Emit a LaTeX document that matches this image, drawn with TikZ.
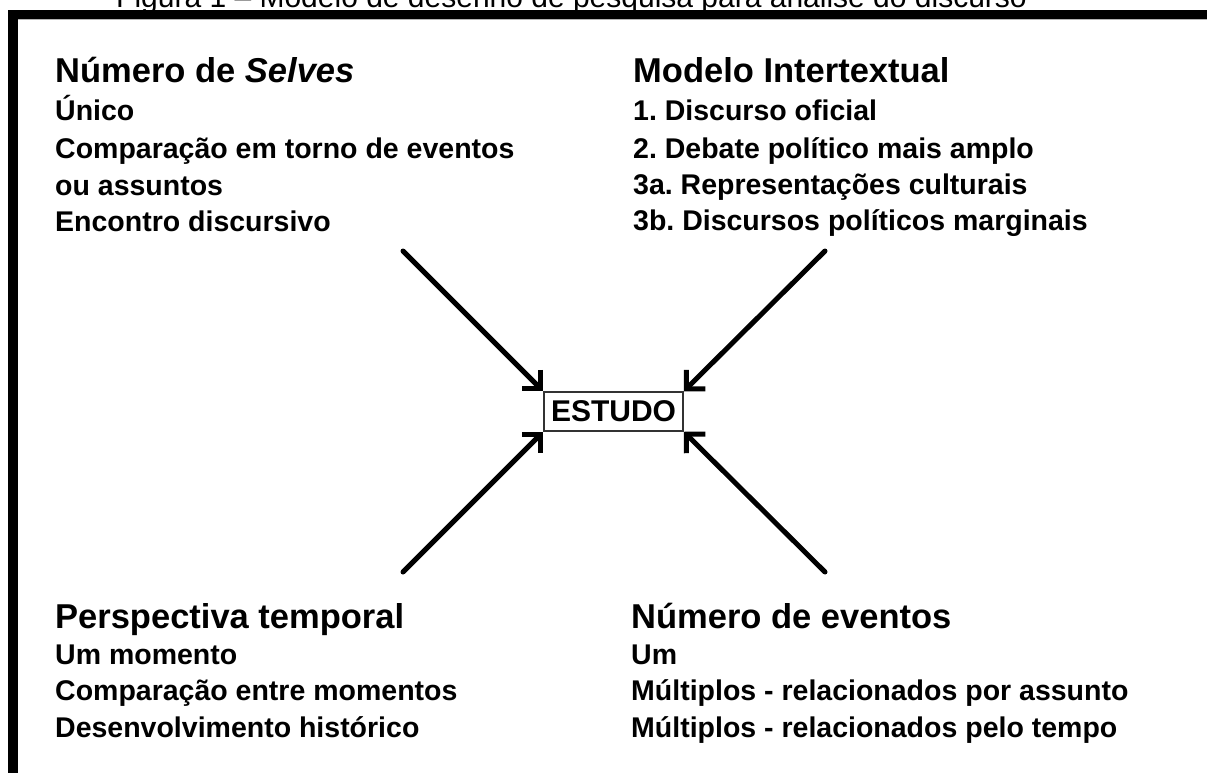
\documentclass[tikz,border=0pt]{standalone}
\usepackage{fontspec}
\setmainfont{Liberation Sans}
\usetikzlibrary{arrows.meta}
\frenchspacing
\newcommand\headfnt{\bfseries\fontsize{34.5}{40}\selectfont}
\newcommand\itemfnt{\bfseries\fontsize{28.5}{34}\selectfont}
\newcommand\capfnt{\fontsize{30}{34}\selectfont}
\tikzset{
  head/.style={anchor=base west, inner sep=0pt, font=\headfnt},
  itm/.style={anchor=base west, inner sep=0pt, font=\itemfnt},
  bigarrow/.style={line width=5pt, line cap=round, -{Straight Barb[angle=90:19pt]}},
  framebar/.style={fill=black}
}
\begin{document}
\begin{tikzpicture}[x=1pt,y=-1pt]
\useasboundingbox (0,0) rectangle (1207,773);
\clip (0,0) rectangle (1207,773);
% caption (cut off at the top)
\node[anchor=base, inner sep=0pt, font=\capfnt] (caption) at (571.5,7.5)
  {Figura 1 – Modelo de desenho de pesquisa para análise do discurso};
% frame
\fill[framebar] (8,10) rectangle (1207,19);
\draw[gray!60, line width=1pt] (18,19.5) -- (1207,19.5);
\fill[framebar] (8,10) rectangle (18,773);
% top left
\node[head] (h1) at (55,83) {Número de \textit{Selves}};
\node[itm] (a1) at (55,121) {Único};
\node[itm] (a2) at (55,158) {Comparação em torno de eventos};
\node[itm] (a3) at (55,195) {ou assuntos};
\node[itm] (a4) at (55,231) {Encontro discursivo};
% top right
\node[head] (h2) at (633,83) {Modelo Intertextual};
\node[itm] (b1) at (633,121) {1. Discurso oficial};
\node[itm] (b2) at (633,158) {2. Debate político mais amplo};
\node[itm] (b3) at (633,194) {3a. Representações culturais};
\node[itm] (b4) at (633,230) {3b. Discursos políticos marginais};
% bottom left
\node[head] (h3) at (55,628) {Perspectiva temporal};
\node[itm] (c1) at (55,664) {Um momento};
\node[itm] (c2) at (55,700) {Comparação entre momentos};
\node[itm] (c3) at (55,737) {Desenvolvimento histórico};
% bottom right
\node[head] (h4) at (631,628) {Número de eventos};
\node[itm] (d1) at (631,664) {Um};
\node[itm] (d2) at (631,700) {Múltiplos - relacionados por assunto};
\node[itm] (d3) at (631,737) {Múltiplos - relacionados pelo tempo};
% center box
\node[draw=black!80, line width=1.5pt, minimum width=139pt, minimum height=39pt,
      inner sep=0pt, font=\bfseries\fontsize{30}{34}\selectfont] (estudo) at (613.5,411.5) {ESTUDO};
% arrows
\coordinate (s1) at (403,251);
\coordinate (s2) at (825,251);
\coordinate (s3) at (403,572);
\coordinate (s4) at (825,572);
\draw[bigarrow] (s1) -- (estudo.north west);
\draw[bigarrow] (s2) -- (estudo.north east);
\draw[bigarrow] (s3) -- (estudo.south west);
\draw[bigarrow] (s4) -- (estudo.south east);
\end{tikzpicture}
\end{document}
